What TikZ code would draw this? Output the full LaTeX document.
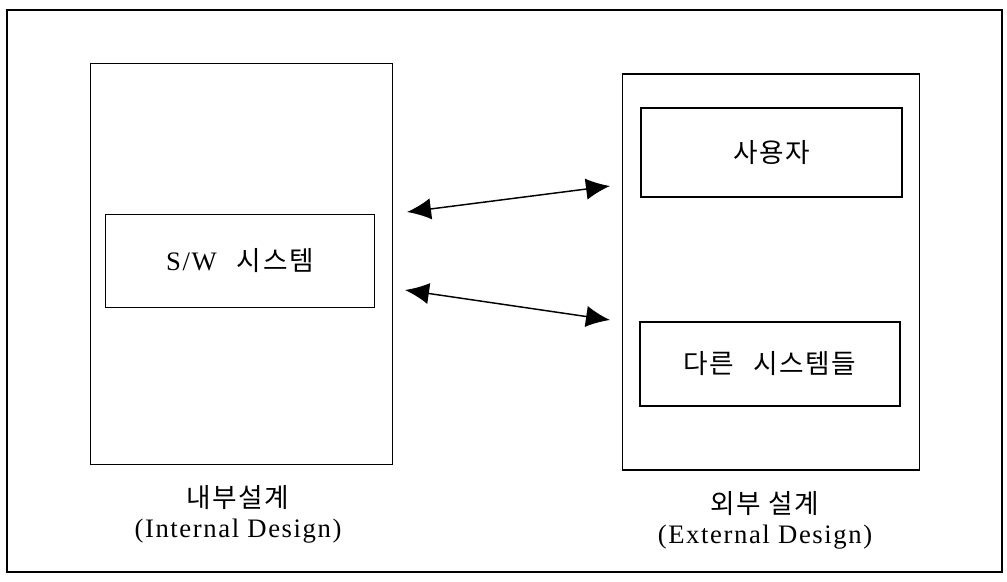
\documentclass[tikz,border=0pt]{standalone}
\usepackage{fontspec}
\usepackage{tikz}
\usetikzlibrary{arrows.meta}
\setmainfont[LetterSpace=6]{Liberation Serif}
\newfontfamily\kr[LetterSpace=6]{Noto Sans CJK KR}

\tikzset{
  panel/.style={draw, line width=0.9pt, rectangle, inner sep=0pt},
  item/.style={draw, line width=1.2pt, rectangle, inner sep=0pt,
    font=\fontsize{20}{24}\selectfont},
  caption/.style={align=center, font=\fontsize{20}{22.5}\selectfont},
  link/.style={{Latex[length=18pt,width=16pt]}-{Latex[length=18pt,width=16pt]}, line width=1.1pt}
}

\begin{document}
\begin{tikzpicture}[x=0.75pt,y=-0.75pt]
        \useasboundingbox (0,0) rectangle (1007,582);
        \draw[line width=0.8pt] (7,10) rectangle (1002,572);
        % inside
        \node[panel, minimum width=226pt, minimum height=301pt] (inpanel) at (241.5,264) {};
        \node[item, minimum width=202pt, minimum height=70pt] (sw) at (240,261) {S/W\;\, {\kr 시스템}};
        \node[caption] (incap) at (238,514) {{\kr 내부설계}\\(Internal Design)};
        % outside
        \node[panel, minimum width=223pt, minimum height=297pt] (expanel) at (771,272) {};
        \node[item, minimum width=196pt, minimum height=67pt] (user) at (771.5,152.5) {\kr 사용자};
        \node[item, minimum width=195pt, minimum height=63pt] (others) at (770,364) {\kr 다른\;\, 시스템들};
        \node[caption] (excap) at (765,520) {{\kr 외부 설계}\\(External Design)};
        % connectors
        \coordinate (a1) at (407,212);
        \coordinate (b1) at (610,186);
        \coordinate (a2) at (405,290);
        \coordinate (b2) at (610,320);
        \draw[link] (a1) -- (b1);
        \draw[link] (a2) -- (b2);
    \end{tikzpicture}
\end{document}
